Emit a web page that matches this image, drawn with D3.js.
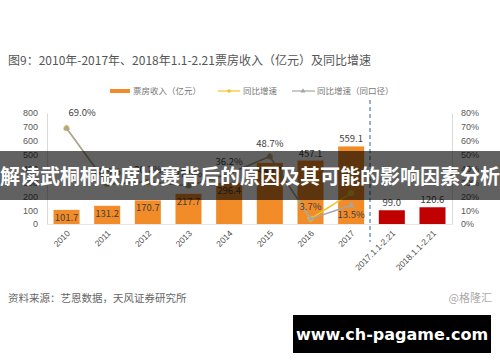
<!DOCTYPE html>
<html>
<head>
<meta charset="utf-8">
<script src="https://cdn.jsdelivr.net/npm/d3@7"></script>
<style>
  body { margin: 0; background: #fff; }
  svg { display: block; font-family: "Noto Sans CJK SC", "Noto Sans", sans-serif; }
</style>
</head>
<body>
<svg width="500" height="362"></svg>
<script>
var categories = ["2010", "2011", "2012", "2013", "2014", "2015", "2016", "2017", "2017.1.1-2.21", "2018.1.1-2.21"];
var boxOffice = [101.7, 131.2, 170.7, 217.7, 296.4, 440.7, 457.1, 559.1, 99.0, 120.6];
var growth = [69.0, 28.9, 30.2, 27.5, 36.2, 48.7, 3.7, 22.3];
var growthSame = [69.0, 28.9, 30.2, 27.5, 36.2, 48.7, 3.7, 13.5];
var leftTicks = [0, 100, 200, 300, 400, 500, 600, 700, 800];
var rightTicks = [0, 10, 20, 30, 40, 50, 60, 70, 80];

var svg = d3.select("svg");
var plotL = 47, plotR = 452, plotT = 113, plotB = 224;

var x = d3.scaleBand().domain(categories).range([plotL, plotR]).paddingInner(0.36).paddingOuter(0.16);
var y = d3.scaleLinear().domain([0, 800]).range([plotB, plotT]);
var y2 = d3.scaleLinear().domain([0, 80]).range([plotB, plotT]);

// title
svg.append("text").attr("x", 8).attr("y", 65)
    .style("font-size", "12px").style("fill", "#555")
    .text("图9：2010年-2017年、2018年1.1-2.21票房收入（亿元）及同比增速");

// legend
var lg = svg.append("g").style("font-size", "8.5px").style("fill", "#777");
lg.append("rect").attr("x", 110).attr("y", 89).attr("width", 20).attr("height", 4).attr("fill", "#F28C28");
lg.append("text").attr("x", 133).attr("y", 94).text("票房收入（亿元）");
lg.append("line").attr("x1", 218).attr("x2", 240).attr("y1", 91).attr("y2", 91).attr("stroke", "#F2C12E").attr("stroke-width", 1.2);
lg.append("circle").attr("cx", 229).attr("cy", 91).attr("r", 1.8).attr("fill", "#F2C12E");
lg.append("text").attr("x", 243).attr("y", 94).text("同比增速");
lg.append("line").attr("x1", 292).attr("x2", 315).attr("y1", 91).attr("y2", 91).attr("stroke", "#A5A5A5").attr("stroke-width", 1.2);
lg.append("path").attr("d", d3.symbol(d3.symbolTriangle, 10)).attr("transform", "translate(303,91)").attr("fill", "#A5A5A5");
lg.append("text").attr("x", 317).attr("y", 94).text("同比增速（同口径）");

// axes
var axL = svg.append("g").attr("transform", "translate(" + plotL + ",0)")
    .call(d3.axisLeft(y).tickValues(leftTicks).tickSize(0).tickPadding(9));
var axR = svg.append("g").attr("transform", "translate(" + plotR + ",0)")
    .call(d3.axisRight(y2).tickValues(rightTicks).tickSize(0).tickPadding(9).tickFormat(function (d) { return d + "%"; }));
[axL, axR].forEach(function (a) {
    a.select(".domain").attr("stroke", "#d9d9d9");
    a.selectAll("text").style("font-size", "9px").style("fill", "#595959").style("font-family", "inherit");
});
var axB = svg.append("g").attr("transform", "translate(0," + plotB + ")")
    .call(d3.axisBottom(x).tickSize(0).tickPadding(0));
axB.select(".domain").attr("stroke", "#e6e6e6");
axB.selectAll("text")
    .style("font-size", "8.5px").style("fill", "#4d4d4d").style("font-family", "inherit")
    .attr("text-anchor", "end").attr("dy", null).attr("y", 0)
    .attr("transform", "translate(4,10) rotate(-45)");

// bars
svg.append("g").selectAll("rect").data(boxOffice).enter().append("rect")
    .attr("x", function (d, i) { return x(categories[i]); })
    .attr("y", function (d) { return y(d); })
    .attr("width", x.bandwidth())
    .attr("height", function (d) { return plotB - y(d); })
    .attr("fill", function (d, i) { return i < 8 ? "#F28C28" : "#C00000"; });

svg.append("g").selectAll("text").data(boxOffice).enter().append("text")
    .attr("x", function (d, i) { return x(categories[i]) + x.bandwidth() / 2; })
    .attr("y", function (d, i) { return i < 6 ? y(d) + 11 : y(d) - 4; })
    .attr("text-anchor", "middle")
    .style("font-size", "9.5px").style("fill", "#404040")
    .text(function (d) { return d.toFixed(1); });

// divider
svg.append("line").attr("x1", 370).attr("x2", 370).attr("y1", 100).attr("y2", 242)
    .attr("stroke", "#4A7EBB").attr("stroke-width", 1.2).attr("stroke-dasharray", "4,3");

// lines
var cx = function (d, i) { return x(categories[i]) + x.bandwidth() / 2; };
var line = d3.line().x(cx).y(function (d) { return y2(d); });
svg.append("path").datum(growth).attr("d", line).attr("fill", "none").attr("stroke", "#F2C12E").attr("stroke-width", 1.5);
svg.append("g").selectAll("circle").data(growth).enter().append("circle")
    .attr("cx", cx).attr("cy", function (d) { return y2(d); }).attr("r", 3).attr("fill", "#F2C12E");
svg.append("path").datum(growthSame).attr("d", line).attr("fill", "none").attr("stroke", "#A5A5A5").attr("stroke-width", 1.5);
svg.append("g").selectAll("path").data(growthSame).enter().append("path")
    .attr("d", d3.symbol(d3.symbolTriangle, 18))
    .attr("transform", function (d, i) { return "translate(" + cx(d, i) + "," + y2(d) + ")"; })
    .attr("fill", "#A5A5A5");

svg.append("g").selectAll("text").data(growthSame).enter().append("text")
    .attr("x", function (d, i) { return cx(d, i) + (i === 0 ? 2 : 0); })
    .attr("y", function (d, i) { return i === 0 ? y2(d) - 12 : (i === 7 ? y2(d) + 13 : y2(d) - 9); })
    .attr("text-anchor", function (d, i) { return i === 0 ? "start" : "middle"; })
    .style("font-size", "9.5px").style("fill", "#404040")
    .text(function (d) { return d.toFixed(1) + "%"; });

// footer
svg.append("text").attr("x", 8).attr("y", 302).style("font-size", "10.5px").style("fill", "#666")
    .text("资料来源：艺恩数据，天风证券研究所");
svg.append("text").attr("x", 492).attr("y", 302).attr("text-anchor", "end").style("font-size", "11px").style("fill", "#aaa")
    .text("@格隆汇");

// overlay banner
svg.append("rect").attr("x", 0).attr("y", 151).attr("width", 500).attr("height", 49).attr("fill", "rgba(0,0,0,0.62)");
svg.append("text").attr("x", 250).attr("y", 184).attr("text-anchor", "middle")
    .style("font-size", "20px").style("font-weight", "bold").style("fill", "#fff")
    .text("解读武桐桐缺席比赛背后的原因及其可能的影响因素分析");

svg.append("rect").attr("x", 293).attr("y", 315).attr("width", 198).attr("height", 38).attr("fill", "#000");
svg.append("text").attr("x", 392).attr("y", 340).attr("text-anchor", "middle")
    .style("font-size", "16px").style("font-weight", "bold").style("fill", "#fff").style("font-family", "'DejaVu Sans', sans-serif")
    .text("www.ch-pagame.com");
</script>
</body>
</html>
